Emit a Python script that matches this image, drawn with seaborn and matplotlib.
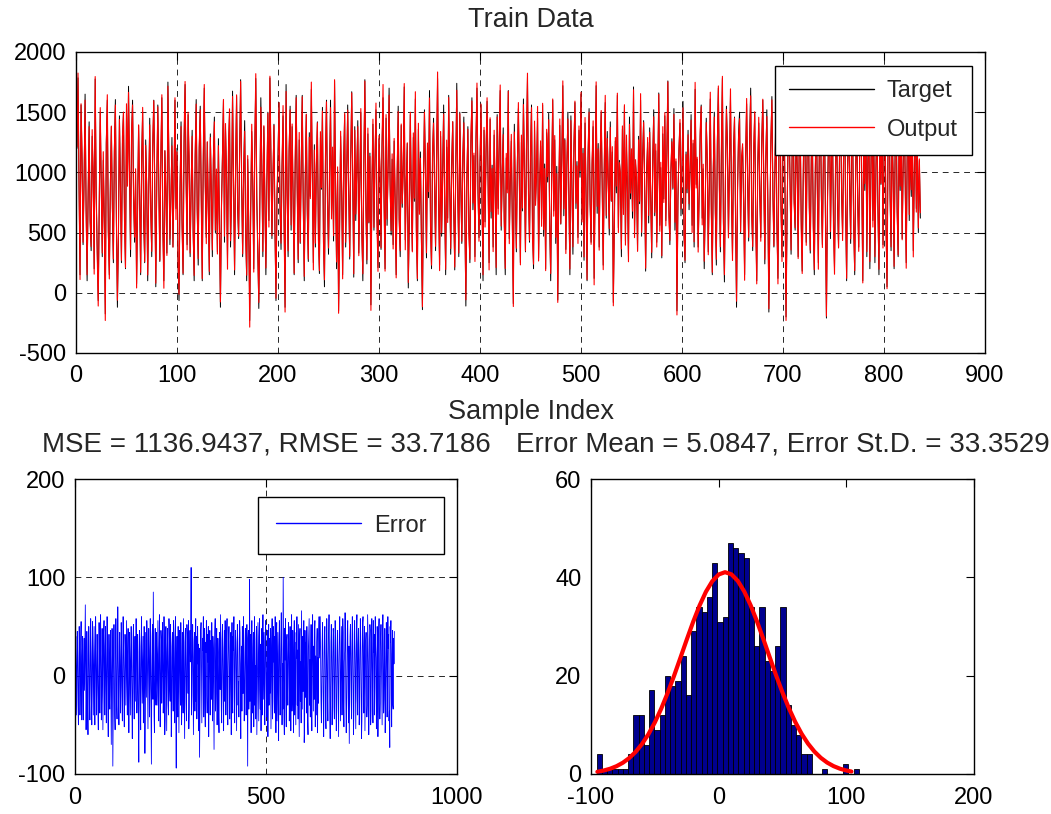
import numpy as np
import pandas as pd
import matplotlib
matplotlib.use("Agg")
import matplotlib.pyplot as plt
import seaborn as sns

# ---------------- data ----------------
target = [
    1200, 1785, 900, 150, 1560, 1100, 400, 950, 1650, 700, 100, 800, 1420, 600, 350, 1300, 1000, 200, 1776, 800,
    350, -65, 700, 1500, 900, 300, 1100, 600, -175, 1250, 1600, 500, 150, 900, 1380, 700, 250, 1200, 1605, 600,
    -120, 450, 1470, 900, 250, 1240, 1500, 650, 200, 1520, 900, 1715, 1000, 300, 1310, 1600, 800, 420, 1010, 75,
    760, 1390, 800, 150, 1120, 1500, 600, 250, 1270, 900, 100, 830, 1450, 700, 300, 1210, 1600, 900, 50, 930,
    1560, 900, 260, 1100, 1620, 550, 100, 1180, 800, 330, 1750, 1100, 400, 800, 1290, 380, 900, 1600, 700, 1200,
    250, -65, 860, 1420, 600, 150, 1240, 1730, 950, 400, 1480, 1060, 300, 880, 1350, 500, 100, 1130, 1605, 700,
    230, 1190, 1550, 800, 100, 1080, 1700, 900, 460, 1250, 700, 150, 1320, 840, 300, 1110, 1460, 500, 980, 340,
    1280, 600, -120, 690, 1150, 1600, 420, 1380, 990, 260, 1210, 1490, 380, 800, 1675, 900, 150, 1050, 1630, 700,
    450, 1190, 1770, 900, 300, 1020, 1430, 500, 100, 1110, 600, -230, 700, 1340, 920, 200, 1200, 1780, 800, 340,
    -130, 700, 1620, 1060, 300, 1380, 800, 150, 920, 1500, 600, 1785, 1100, 450, 970, 1400, 500, -65, 820, 1150,
    1580, 700, 360, 1060, 1470, 600, -120, 1730, 860, 300, 1190, 1550, 520, 1380, 770, 150, 1040, 1640, 900, 250,
    1270, 410, 1090, 1640, 730, 100, 970, 1480, 650, 260, 1330, 800, 1690, 930, 250, 1230, 380, 1060, 1420, 500,
    160, 1290, 860, 1540, 470, 50, 1100, 1600, 780, 320, 990, 1600, 650, 1180, 430, 1760, 880, 200, 1020, -150,
    540, 1300, 840, 150, 1110, 1480, 380, 990, 1560, 830, 280, 1140, 1670, 940, 130, 1380, 600, 1020, 1430, 330,
    880, 1500, 520, 100, 1080, 1770, 760, 240, 1320, 580, 1160, -100, 870, 1400, 520, 1090, 1520, 640, 210, 1280,
    980, 360, 1210, 1620, 790, 200, 1450, 560, 1040, 1700, 900, 480, 1110, 400, 1260, 740, 150, 980, 1550, 620,
    300, 1390, 710, 1060, 1710, 440, 920, 1240, 40, 580, 1480, 830, 350, 1290, 760, 1610, 520, 100, 1360, 680,
    1170, 430, -140, 870, 1520, 1030, 290, 1230, 790, 1680, 560, 200, 1120, 1450, 890, 350, 1140, 1780, 760, 230,
    1300, 470, 990, 1560, 730, 150, 1210, 620, 1640, 880, 320, 1090, 1420, 680, 190, 1060, 1740, 800, 300, 1500,
    870, 410, 1130, 1460, 620, -110, 950, 1380, 540, 250, 1250, 1620, 690, 1140, 300, 1270, 1700, 830, 460, 1090,
    1560, 740, 100, 1350, 590, 1190, 1590, 910, 250, 1440, 620, 1060, 380, 1310, 850, 150, 1480, 700, 1230, 1680,
    520, 980, 1370, 600, 150, 1120, 860, 1680, 450, 930, 1260, 570, -90, 1400, 820, 340, 1090, 1530, 900, 250,
    1250, 680, 1610, 1030, 340, 1190, 1790, 860, 420, 1120, 1560, 540, 200, 1380, 760, 1010, 1450, 290, 880, 1220,
    610, 1560, 470, 1070, 200, 1330, 920, 1490, 560, 100, 990, 1600, 680, 1270, 410, 1050, -60, 830, 1390, 570,
    1130, 1720, 640, 1280, 360, 1040, 1500, 780, 150, 1470, 870, 320, 1230, 1580, 700, 1090, 460, 1350, 960, 1650,
    610, 1200, 270, 1410, 830, 100, 1120, 1530, 740, 420, 1070, 1380, 120, 890, 1720, 660, 1240, 380, 1110, 1500,
    870, 230, 1030, 1580, 620, 1340, 910, 480, 1420, 760, 1170, -80, 590, 1260, 830, 1640, 540, 1100, 960, 300,
    1360, 700, 1550, 430, 1210, 850, 300, 1460, 780, 1180, 620, 1710, 510, 1070, 920, 350, 1300, 740, 1600, 470,
    1130, 1430, 890, 180, 1020, 1250, 580, 1370, 810, 290, 1090, 1520, 640, 1180, 420, 960, 1660, 560, 1040, 290,
    1320, 780, 1470, 600, 1140, 1760, 700, 400, 990, 1280, 860, 1530, 520, 1090, -150, 770, 1200, 1410, 640, 1060,
    1590, 460, 250, 1170, 830, 1350, 690, 1020, 1480, 560, 1240, 380, 1690, 900, 1110, 380, 810, 1300, 1560, 620,
    1030, 200, 700, 1450, 1100, 340, 870, 1610, 720, 150, 1040, 1500, 660, 230, 1270, 1700, 890, 340, 1150, 1780,
    580, 90, 960, 1550, 1230, 470, 1060, 1640, 800, 300, 1190, 1460, 610, -120, 850, 1330, 1500, 500, 1080, 1210,
    760, 150, 1120, 1570, 880, 430, 1300, 1700, 680, 350, 1160, 1490, 620, 100, 1050, 1410, 820, 460, 1280, 1600,
    900, 240, 1130, 1520, 760, -160, 590, 1250, 1630, 850, 380, 1020, 1440, 540, 120, 1190, 1700, 700, 300, 1340,
    1560, 810, -200, 650, 1230, 1470, 890, 320, 1140, 1650, 780, 520, 1380, 1060, 300, 1200, 1450, 620, 180, 930,
    1580, 1040, 420, 1300, 1690, 710, 330, 1120, 1410, 570, 150, 1000, 1480, 860, 250, 1250, 1600, 780, 400, 1150,
    1520, 610, -210, 760, 1280, 1640, 450, 1100, 1360, 600, 200, 1030, 1470, 720, 380, 1210, 1580, 820, 490, 1170,
    1540, 680, 100, 1090, 1450, 870, 410, 1330, 1290, 560, 150, 1060, 1390, 740, 380, 1220, 1620, 900, 100, 1300,
    850, 1600, 300, 1100, 1450, 200, 950, 1700, 600, 1200, 250, 1000, 1550, 700, 150, 1300, 900, 1650, 400, 1100,
    1500, 550, 50, 1250, 1700, 800, 350, 1400, 1000, 200, 1150, 1600, 700, 300, 1350, 850, 1500, 450, 1050, 1650,
    900, 250, 1200, 1550, 600, 1300, 800, 1450, 350, 1000, 1600, 700, 1250, 500, 1100, 620,
]

error = [
    15, 40, -5, -40, 10, 45, 20, -30, -50, 5, 50, 25, -40, -15, 35, 55, -10, -45, 20, 40,
    -20, -45, 10, 38, -15, 30, 72, 15, -55, -20, 45, 20, -35, -60, 5, 50, 30, -25, -45, 15,
    58, 25, -30, -50, 20, 55, 0, -40, 10, 50, -15, -50, 25, 60, 15, -40, -10, 42, 20, -35,
    -55, 5, 54, 20, -38, 40, 62, 10, -45, -20, 48, 15, -55, -10, 44, 56, -5, -40, 30, 50,
    -15, -48, 10, 60, 25, -30, -62, 0, 42, -20, -34, 20, 46, -18, -70, 0, 48, 20, -92, -30,
    15, 52, 10, -40, -55, 12, 58, 25, -30, -44, 20, 70, 30, -22, -50, 5, 44, 15, -38, -10,
    54, 22, -30, -46, 18, 60, 30, -20, -52, 5, 42, 28, -30, 12, 56, -8, -40, 20, 48, -18,
    -58, -20, 44, 16, -40, 6, 50, 26, -32, -64, -5, 38, 52, -16, -44, 10, 40, -26, 14, 58,
    20, -38, -15, 42, 24, -50, -88, -10, 46, 30, -34, -55, 18, 60, 20, -28, 10, 40, -48, -16,
    50, 20, -79, -30, 44, 8, -22, 56, 36, -10, -54, 14, 48, 26, -42, -10, 58, 20, -36, -90,
    0, 40, 52, -24, 85, 16, -40, -58, 14, 48, -14, -30, 44, 22, -30, 12, 56, -20, -46, 28,
    62, 10, -52, -12, 46, 36, -28, 4, 54, 20, -38, -18, 60, 26, -60, -44, 32, 50, -8, -56,
    24, 48, 14, -30, -40, 58, 38, -14, -26, 52, 18, -62, -36, 30, 44, 10, -36, 56, 26, -20,
    -48, 42, 60, -34, -94, 12, 40, -16, -42, 50, 22, -58, -10, 46, 28, -30, 54, 16, -50, -22,
    44, 30, -38, 58, 20, -12, -64, 34, 48, 8, -28, -46, 52, 42, 24, -18, 56, -54, -32, 26,
    46, 14, 38, 110, -40, -20, 30, 52, 18, -60, -8, 36, 44, -36, 22, 58, -26, 40, -44, -16,
    50, 12, 32, -56, 28, -83, -34, 6, 46, 54, 20, -48, -10, 38, 26, 60, -42, 18, 48, -28,
    -52, 34, 24, 56, -20, -38, 42, 14, 50, -62, -6, 30, 46, -40, 22, 36, -24, 54, 16, -46,
    40, 28, -30, -75, 10, 44, 58, -36, -18, 32, 48, -50, 2, 38, 24, -42, -58, 44, 30, -14,
    62, 18, -34, -48, 36, 52, 12, -22, -56, 28, 46, -26, 56, 20, -40, -10, 42, 58, -32, -50,
    8, 36, 50, 24, -44, -16, 30, 44, -60, 14, 54, -28, -38, 40, 26, 60, -20, -48, 22, 46,
    34, -12, -56, 18, 52, 38, -30, -6, -42, 26, 56, 44, -24, -64, 12, 30, -36, 50, 36, -18,
    60, 24, -46, -28, 8, 48, 34, -40, 16, 52, -22, -92, 38, 46, -34, -10, 98, -26, 30, 42,
    -58, 14, 56, -38, -16, 28, 44, -52, 20, 60, -30, 10, -44, 36, 50, -60, -20, 26, 54, 6,
    -46, 40, 58, -14, -34, 32, -56, 18, 48, -40, 22, 62, -24, 12, 44, -36, -50, 36, 56, 16,
    -22, -42, 28, 46, -62, 10, 52, -30, 38, -18, 24, 48, -54, -8, 32, 58, -44, -26, 50, 14,
    40, -38, -12, 60, 22, -58, 34, 54, -46, 4, 44, -28, -66, 30, 56, 18, -40, -18, 38, 64,
    26, -50, 12, -34, 100, 30, -42, -60, 48, 16, 58, -24, -52, 36, 42, -6, -30, 20, 54, 32,
    -46, -14, 50, 24, -56, 40, 62, -36, -20, 46, 10, -58, 28, 56, -40, 34, -12, -50, 44, 18,
    60, -30, 26, -44, 52, -8, -62, 36, 48, -26, 14, -48, 66, 22, -34, 40, -16, 30, 56, -68,
    -54, 46, 20, -22, 34, -38, 50, 12, -46, -60, 28, 44, 58, -30, 16, -42, 24, 52, -14, -56,
    38, 62, 6, -36, 30, -24, 46, 56, -52, 20, -10, -40, 34, 48, -58, 18, -28, 42, 60, 18,
    42, 60, 18, -26, -48, -14, 34, 54, 22, -32, -62, -8, 40, 50, 20, -42, -54, 6, 58, 28,
    -20, -46, 16, 44, 62, 30, -38, -64, -12, 34, 52, 14, -50, -26, 24, 48, 40, -32, -44, 8,
    56, 38, -20, -56, -36, 28, 46, 18, -28, -62, 10, 42, 60, 32, -46, -12, 22, 50, -40, -10,
    58, 44, -30, -52, 14, 26, 64, 36, -22, -58, -34, 20, 48, 56, -16, -48, 30, -69, -20, 40,
    52, 18, -26, -44, 34, 60, 24, -10, -60, -36, 42, 56, 28, -18, -54, 12, 46, 62, -24, -40,
    32, 48, 16, -50, -32, 26, 58, 40, -20, -64, -46, 22, 54, 60, -8, -38, 30, 50, -56, -14,
    36, 44, 20, -42, -30, 62, 38, 14, -60, -22, 34, 52, 46, -50, -36, 6, 58, 28, -18, -48,
    56, 24, 42, -40, -12, 60, 30, 18, -54, -34, 50, 36, -62, -20, 46, 58, 10, -44, -28, 38,
    52, 26, -16, -50, 44, 62, 32, -38, -24, 20, 48, -58, -30, 14, 54, 36, -42, -10, 60, 28,
    42, -46, -36, -73, 50, 34, 56, -20, -52, 22, 46, -30, -34, 38, 12, 45,
]

# histogram of the errors (counts per bin)
hist_counts = [4, 1, 1, 1, 1, 1, 4, 12, 12, 6,
               17, 9, 12, 20, 18, 19, 24, 16, 29, 34,
               33, 36, 43, 31, 32, 47, 46, 45, 44, 34,
               26, 34, 23, 21, 26, 34, 14, 10, 8, 4,
               4, 0, 0, 1, 0, 0, 0, 2, 0, 1]
hist_lo, hist_hi = -95.6, 109.9

# fitted normal curve (red)
fit_x = [-95, -90, -85, -80, -75, -70, -65, -60, -55, -50, -45, -40, -35, -30, -25, -20, -15, -10, -5, 0,
         5, 10, 15, 20, 25, 30, 35, 40, 45, 50, 55, 60, 65, 70, 75, 80, 85, 90, 95, 100, 104]
fit_y = [0.45, 0.71, 1.07, 1.59, 2.30, 3.26, 4.51, 6.12, 8.10, 10.49, 13.29, 16.46, 19.93, 23.61, 27.33,
         30.94, 34.24, 37.06, 39.21, 40.58, 41.05, 40.61, 39.27, 37.14, 34.34, 31.05, 27.45, 23.73, 20.05,
         16.57, 13.39, 10.58, 8.17, 6.17, 4.56, 3.29, 2.32, 1.60, 1.08, 0.71, 0.50]

title_top = "Train Data"
xlabel_top = "Sample Index"
title_err = "MSE = 1136.9437, RMSE = 33.7186"
title_hist = "Error Mean = 5.0847, Error St.D. = 33.3529"

# ---------------- derived ----------------
n = min(len(target), len(error))
idx = np.arange(1, n + 1)
target_a = np.array(target[:n], dtype=float)
error_a = np.array(error[:n], dtype=float)
output_a = target_a + error_a
edges = np.linspace(hist_lo, hist_hi, len(hist_counts) + 1)
centers = 0.5 * (edges[:-1] + edges[1:])
hist_df = pd.DataFrame({"center": centers, "count": np.array(hist_counts, dtype=float)})

# ---------------- style ----------------
sns.set_style("white")
plt.rcParams["font.family"] = ["Liberation Sans", "DejaVu Sans"]
plt.rcParams["axes.unicode_minus"] = False
plt.rcParams["axes.edgecolor"] = "black"
plt.rcParams["axes.linewidth"] = 1.0

W, H = 1051, 814
fig = plt.figure(figsize=(W / 100, H / 100), dpi=100)

def box(l, t, r, b):
    return [l / W, 1 - b / H, (r - l) / W, (b - t) / H]

ax1 = fig.add_axes(box(76, 52, 985, 353))
ax2 = fig.add_axes(box(75, 479, 457, 774))
ax3 = fig.add_axes(box(591, 479, 974, 774))

TICK = 17
TITLE_TOP = 19.5
TITLE_BOT = 20
grid_kw = dict(color="black", linestyle=(0, (6, 5)), linewidth=0.7, alpha=0.85)

for ax in (ax1, ax2, ax3):
    ax.tick_params(direction="in", top=True, right=True, length=6, width=0.8,
                   labelsize=TICK, colors="black")
    ax.tick_params(axis="x", pad=9)
    ax.tick_params(axis="y", pad=7)
    for s in ax.spines.values():
        s.set_color("black")
        s.set_linewidth(1.0)
    ax.set_facecolor("white")

leg_kw = dict(loc="upper right", borderaxespad=0, fancybox=False, edgecolor="black",
              framealpha=1, fontsize=TICK, handlelength=3.6, handletextpad=0.55)

# --- top: target vs output
sns.lineplot(x=idx, y=target_a, ax=ax1, color="black", linewidth=0.7,
             estimator=None, sort=False, label="Target")
sns.lineplot(x=idx, y=output_a, ax=ax1, color="red", linewidth=0.8,
             estimator=None, sort=False, label="Output")
ax1.set_xlim(0, 900)
ax1.set_ylim(-500, 2000)
ax1.set_xticks(np.arange(0, 901, 100))
ax1.set_yticks(np.arange(-500, 2001, 500))
ax1.set_axisbelow(True)
ax1.grid(True, **grid_kw)
ax1.set_title(title_top, fontsize=TITLE_TOP, pad=18)
ax1.set_xlabel(xlabel_top, fontsize=TITLE_TOP, labelpad=8)
ax1.set_ylabel("")
leg = ax1.legend(bbox_to_anchor=(0.9857, 0.9535), borderpad=0.6, labelspacing=0.7, **leg_kw)
leg.get_frame().set_linewidth(1.0)
for ln in leg.get_lines():
    ln.set_linewidth(1.0)

# --- bottom left: error
sns.lineplot(x=idx, y=error_a, ax=ax2, color="blue", linewidth=0.6,
             estimator=None, sort=False, label="Error")
ax2.set_xlim(0, 1000)
ax2.set_ylim(-100, 200)
ax2.set_xticks([0, 500, 1000])
ax2.set_yticks([-100, 0, 100, 200])
ax2.set_axisbelow(True)
ax2.grid(True, **grid_kw)
ax2.set_title(title_err, fontsize=TITLE_BOT, pad=20)
ax2.set_xlabel("")
ax2.set_ylabel("")
leg2 = ax2.legend(bbox_to_anchor=(0.966, 0.939), borderpad=0.75, **leg_kw)
leg2.get_frame().set_linewidth(1.0)
for ln in leg2.get_lines():
    ln.set_linewidth(1.0)

# --- bottom right: histogram + fit
sns.histplot(data=hist_df, x="center", weights="count", bins=list(edges), ax=ax3,
             color="#00008F", edgecolor="black", linewidth=0.6, alpha=1.0)
sns.lineplot(x=fit_x, y=fit_y, ax=ax3, color="red", linewidth=3.0,
             estimator=None, sort=False)
ax3.set_xlim(-100, 200)
ax3.set_ylim(0, 60)
ax3.set_xticks([-100, 0, 100, 200])
ax3.set_yticks([0, 20, 40, 60])
ax3.set_title(title_hist, fontsize=TITLE_BOT, pad=20)
ax3.set_xlabel("")
ax3.set_ylabel("")

fig.savefig("out.png", dpi=100)
